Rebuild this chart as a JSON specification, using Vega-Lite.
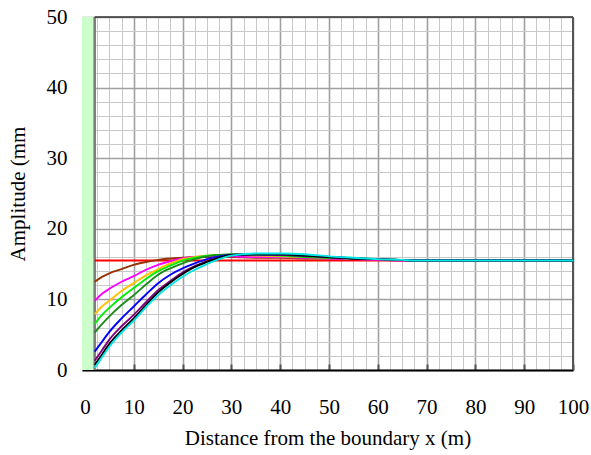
{
  "$schema": "https://vega.github.io/schema/vega-lite/v6.json",
  "width": 491,
  "height": 353,
  "autosize": {"type": "none"},
  "padding": {"left": 82, "top": 17, "right": 18, "bottom": 85},
  "background": "white",
  "config": {"view": {"stroke": null}, "font": "Liberation Serif"},
  "datasets": {
    "curves": [
      {"s":"red","x":2,"y":15.5},{"s":"red","x":100,"y":15.5},
      {"s":"brown","x":2,"y":12.5},{"s":"brown","x":3.5,"y":13.2},{"s":"brown","x":5,"y":13.7},{"s":"brown","x":7.5,"y":14.3},{"s":"brown","x":10,"y":14.9},{"s":"brown","x":12.5,"y":15.3},{"s":"brown","x":15,"y":15.6},{"s":"brown","x":17.5,"y":15.8},{"s":"brown","x":20,"y":15.9},{"s":"brown","x":22.5,"y":16.0},{"s":"brown","x":25,"y":16.0},{"s":"brown","x":27.5,"y":16.0},{"s":"brown","x":30,"y":16.0},{"s":"brown","x":35,"y":15.9},{"s":"brown","x":40,"y":15.9},{"s":"brown","x":45,"y":15.8},{"s":"brown","x":50,"y":15.8},{"s":"brown","x":55,"y":15.7},{"s":"brown","x":60,"y":15.6},{"s":"brown","x":65,"y":15.5},{"s":"brown","x":100,"y":15.5},
      {"s":"magenta","x":2,"y":9.8},{"s":"magenta","x":3.5,"y":10.8},{"s":"magenta","x":5,"y":11.5},{"s":"magenta","x":7.5,"y":12.5},{"s":"magenta","x":10,"y":13.3},{"s":"magenta","x":12.5,"y":14.2},{"s":"magenta","x":15,"y":14.9},{"s":"magenta","x":17.5,"y":15.4},{"s":"magenta","x":20,"y":15.8},{"s":"magenta","x":22.5,"y":16.0},{"s":"magenta","x":25,"y":16.1},{"s":"magenta","x":27.5,"y":16.2},{"s":"magenta","x":30,"y":16.1},{"s":"magenta","x":35,"y":16.0},{"s":"magenta","x":40,"y":16.0},{"s":"magenta","x":45,"y":15.9},{"s":"magenta","x":50,"y":15.8},{"s":"magenta","x":55,"y":15.7},{"s":"magenta","x":60,"y":15.6},{"s":"magenta","x":65,"y":15.5},{"s":"magenta","x":100,"y":15.5},
      {"s":"orange","x":2,"y":7.9},{"s":"orange","x":3.5,"y":9.0},{"s":"orange","x":5,"y":9.8},{"s":"orange","x":7.5,"y":11.2},{"s":"orange","x":10,"y":12.3},{"s":"orange","x":12.5,"y":13.4},{"s":"orange","x":15,"y":14.3},{"s":"orange","x":17.5,"y":15.1},{"s":"orange","x":20,"y":15.7},{"s":"orange","x":22.5,"y":16.0},{"s":"orange","x":25,"y":16.2},{"s":"orange","x":27.5,"y":16.3},{"s":"orange","x":30,"y":16.3},{"s":"orange","x":35,"y":16.2},{"s":"orange","x":40,"y":16.1},{"s":"orange","x":45,"y":16.0},{"s":"orange","x":50,"y":15.9},{"s":"orange","x":55,"y":15.8},{"s":"orange","x":60,"y":15.7},{"s":"orange","x":65,"y":15.6},{"s":"orange","x":68,"y":15.5},{"s":"orange","x":100,"y":15.5},
      {"s":"lime","x":2,"y":6.5},{"s":"lime","x":3.5,"y":7.8},{"s":"lime","x":5,"y":8.8},{"s":"lime","x":7.5,"y":10.3},{"s":"lime","x":10,"y":11.6},{"s":"lime","x":12.5,"y":12.9},{"s":"lime","x":15,"y":14.0},{"s":"lime","x":17.5,"y":14.8},{"s":"lime","x":20,"y":15.5},{"s":"lime","x":22.5,"y":15.9},{"s":"lime","x":25,"y":16.2},{"s":"lime","x":27.5,"y":16.3},{"s":"lime","x":30,"y":16.3},{"s":"lime","x":35,"y":16.3},{"s":"lime","x":40,"y":16.2},{"s":"lime","x":45,"y":16.0},{"s":"lime","x":50,"y":15.9},{"s":"lime","x":55,"y":15.8},{"s":"lime","x":60,"y":15.7},{"s":"lime","x":65,"y":15.6},{"s":"lime","x":68,"y":15.5},{"s":"lime","x":100,"y":15.5},
      {"s":"darkgreen","x":2,"y":5.3},{"s":"darkgreen","x":3.5,"y":6.5},{"s":"darkgreen","x":5,"y":7.6},{"s":"darkgreen","x":7.5,"y":9.2},{"s":"darkgreen","x":10,"y":10.6},{"s":"darkgreen","x":12.5,"y":12.1},{"s":"darkgreen","x":15,"y":13.5},{"s":"darkgreen","x":17.5,"y":14.4},{"s":"darkgreen","x":20,"y":15.1},{"s":"darkgreen","x":22.5,"y":15.7},{"s":"darkgreen","x":25,"y":16.1},{"s":"darkgreen","x":27.5,"y":16.3},{"s":"darkgreen","x":30,"y":16.4},{"s":"darkgreen","x":35,"y":16.4},{"s":"darkgreen","x":40,"y":16.3},{"s":"darkgreen","x":45,"y":16.1},{"s":"darkgreen","x":50,"y":15.9},{"s":"darkgreen","x":55,"y":15.8},{"s":"darkgreen","x":60,"y":15.7},{"s":"darkgreen","x":65,"y":15.6},{"s":"darkgreen","x":68,"y":15.5},{"s":"darkgreen","x":100,"y":15.5},
      {"s":"blue","x":2,"y":2.6},{"s":"blue","x":3.5,"y":4.0},{"s":"blue","x":5,"y":5.4},{"s":"blue","x":7.5,"y":7.3},{"s":"blue","x":10,"y":9.0},{"s":"blue","x":12.5,"y":10.7},{"s":"blue","x":15,"y":12.3},{"s":"blue","x":17.5,"y":13.5},{"s":"blue","x":20,"y":14.4},{"s":"blue","x":22.5,"y":15.1},{"s":"blue","x":25,"y":15.7},{"s":"blue","x":27.5,"y":16.1},{"s":"blue","x":30,"y":16.3},{"s":"blue","x":35,"y":16.4},{"s":"blue","x":40,"y":16.3},{"s":"blue","x":45,"y":16.2},{"s":"blue","x":50,"y":16.0},{"s":"blue","x":55,"y":15.8},{"s":"blue","x":60,"y":15.7},{"s":"blue","x":65,"y":15.6},{"s":"blue","x":68,"y":15.5},{"s":"blue","x":100,"y":15.5},
      {"s":"purple","x":2,"y":1.3},{"s":"purple","x":3.5,"y":2.8},{"s":"purple","x":5,"y":4.3},{"s":"purple","x":7.5,"y":6.2},{"s":"purple","x":10,"y":7.8},{"s":"purple","x":12.5,"y":9.6},{"s":"purple","x":15,"y":11.3},{"s":"purple","x":17.5,"y":12.6},{"s":"purple","x":20,"y":13.8},{"s":"purple","x":22.5,"y":14.7},{"s":"purple","x":25,"y":15.4},{"s":"purple","x":27.5,"y":15.9},{"s":"purple","x":30,"y":16.2},{"s":"purple","x":35,"y":16.4},{"s":"purple","x":40,"y":16.3},{"s":"purple","x":45,"y":16.2},{"s":"purple","x":50,"y":16.0},{"s":"purple","x":55,"y":15.8},{"s":"purple","x":60,"y":15.7},{"s":"purple","x":65,"y":15.6},{"s":"purple","x":68,"y":15.5},{"s":"purple","x":100,"y":15.5},
      {"s":"black","x":2,"y":0.7},{"s":"black","x":3.5,"y":2.2},{"s":"black","x":5,"y":3.7},{"s":"black","x":7.5,"y":5.6},{"s":"black","x":10,"y":7.3},{"s":"black","x":12.5,"y":9.2},{"s":"black","x":15,"y":11.0},{"s":"black","x":17.5,"y":12.4},{"s":"black","x":20,"y":13.6},{"s":"black","x":22.5,"y":14.6},{"s":"black","x":25,"y":15.3},{"s":"black","x":27.5,"y":15.9},{"s":"black","x":30,"y":16.3},{"s":"black","x":35,"y":16.4},{"s":"black","x":40,"y":16.4},{"s":"black","x":45,"y":16.2},{"s":"black","x":50,"y":16.0},{"s":"black","x":55,"y":15.8},{"s":"black","x":60,"y":15.7},{"s":"black","x":65,"y":15.6},{"s":"black","x":68,"y":15.5},{"s":"black","x":100,"y":15.5},
      {"s":"cyan","x":2,"y":0.3},{"s":"cyan","x":3.5,"y":1.8},{"s":"cyan","x":5,"y":3.3},{"s":"cyan","x":7.5,"y":5.3},{"s":"cyan","x":10,"y":7.0},{"s":"cyan","x":12.5,"y":8.9},{"s":"cyan","x":15,"y":10.6},{"s":"cyan","x":17.5,"y":12.0},{"s":"cyan","x":20,"y":13.2},{"s":"cyan","x":22.5,"y":14.2},{"s":"cyan","x":25,"y":15.0},{"s":"cyan","x":27.5,"y":15.7},{"s":"cyan","x":30,"y":16.2},{"s":"cyan","x":35,"y":16.5},{"s":"cyan","x":40,"y":16.5},{"s":"cyan","x":45,"y":16.4},{"s":"cyan","x":50,"y":16.1},{"s":"cyan","x":55,"y":15.9},{"s":"cyan","x":60,"y":15.7},{"s":"cyan","x":65,"y":15.6},{"s":"cyan","x":68,"y":15.5},{"s":"cyan","x":100,"y":15.5}
    ]
  },
  "encoding": {
    "x": {
      "field": "x", "type": "quantitative",
      "scale": {"domain": [-0.6, 100], "nice": false, "zero": false},
      "axis": {
        "title": "Distance from the boundary x (m)",
        "values": [0,2.5,5,7.5,10,12.5,15,17.5,20,22.5,25,27.5,30,32.5,35,37.5,40,42.5,45,47.5,50,52.5,55,57.5,60,62.5,65,67.5,70,72.5,75,77.5,80,82.5,85,87.5,90,92.5,95,97.5,100],
        "labelExpr": "datum.value % 10 === 0 ? datum.label : ''",
        "labelOverlap": false,
        "labelFlush": false,
        "labelFont": "Liberation Serif",
        "labelFontSize": 21,
        "labelColor": "#000",
        "labelPadding": 32,
        "tickSize": -6,
        "tickWidth": 2,
        "tickColor": {"condition": {"test": "datum.value % 10 === 0", "value": "#555"}, "value": "transparent"},
        "domainColor": "#000",
        "domainWidth": 2,
        "grid": true,
        "gridColor": {"condition": {"test": "datum.value % 10 === 0", "value": "#a0a0a0"}, "value": "#c8c8c8"},
        "gridWidth": {"condition": {"test": "datum.value % 10 === 0", "value": 1.6}, "value": 1},
        "gridOpacity": 1,
        "titleFont": "Liberation Serif",
        "titleFontSize": 21,
        "titleFontWeight": "normal",
        "titleColor": "#000",
        "titlePadding": 10
      }
    },
    "y": {
      "field": "y", "type": "quantitative",
      "scale": {"domain": [0, 50], "nice": false, "zero": false},
      "axis": {
        "title": "Amplitude (mm",
        "values": [0,2,4,6,8,10,12,14,16,18,20,22,24,26,28,30,32,34,36,38,40,42,44,46,48,50],
        "labelExpr": "datum.value % 10 === 0 ? datum.label : ''",
        "labelOverlap": false,
        "labelFlush": false,
        "labelFont": "Liberation Serif",
        "labelFontSize": 21,
        "labelColor": "#000",
        "labelPadding": 15,
        "ticks": false,
        "domain": false,
        "grid": true,
        "gridColor": {"condition": {"test": "datum.value % 10 === 0", "value": "#a0a0a0"}, "value": "#c8c8c8"},
        "gridWidth": {"condition": {"test": "datum.value % 10 === 0", "value": 1.6}, "value": 1},
        "gridOpacity": 1,
        "titleFont": "Liberation Serif",
        "titleFontSize": 21,
        "titleFontWeight": "normal",
        "titleColor": "#000",
        "titlePadding": 18
      }
    }
  },
  "layer": [
    {
      "data": {"values": [{"x": -0.6, "x2": 2, "y": 0, "y2": 50}]},
      "mark": {"type": "rect", "color": "#CCFFCC"},
      "encoding": {"x2": {"field": "x2"}, "y2": {"field": "y2"}}
    },
    {
      "data": {"values": [{"x": 2, "y": 0, "y2": 50}]},
      "mark": {"type": "rule", "color": "#7a7a7a", "strokeWidth": 2.5},
      "encoding": {"y2": {"field": "y2"}}
    },
    {
      "data": {"values": [{"x": 2, "x2": 100, "y": 50}]},
      "mark": {"type": "rule", "color": "#333", "strokeWidth": 1.5},
      "encoding": {"x2": {"field": "x2"}}
    },
    {
      "data": {"values": [{"x": 100, "y": 0, "y2": 50}]},
      "mark": {"type": "rule", "color": "#555", "strokeWidth": 2},
      "encoding": {"y2": {"field": "y2"}}
    },
    {
      "data": {"name": "curves"},
      "mark": {"type": "line", "strokeWidth": 1.9, "interpolate": "monotone"},
      "encoding": {
        "color": {
          "field": "s", "type": "nominal", "legend": null,
          "scale": {
            "domain": ["red","brown","magenta","orange","lime","darkgreen","blue","purple","black","cyan"],
            "range": ["#FF0000","#993300","#FF00FF","#FFC000","#00EE00","#1A8C1A","#0000FF","#800080","#000000","#00E5E5"]
          }
        }
      }
    }
  ]
}
